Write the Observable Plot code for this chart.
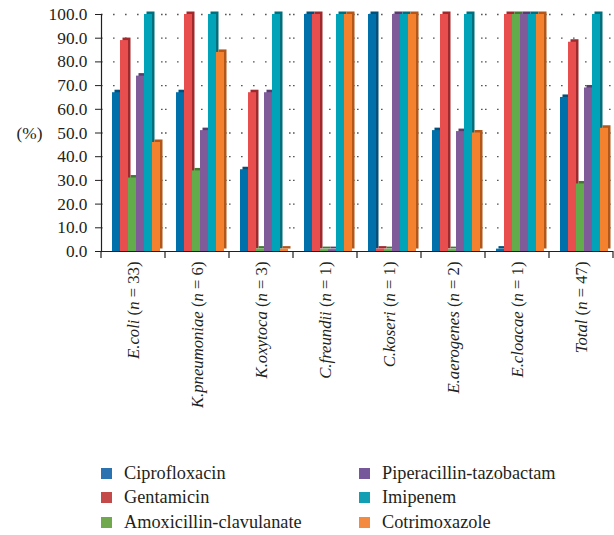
<!DOCTYPE html>
<html><head><meta charset="utf-8">
<script src="https://cdn.jsdelivr.net/npm/d3@7"></script>
<script src="https://cdn.jsdelivr.net/npm/@observablehq/plot@0.6"></script>
<style>
body{margin:0;background:#fff;font-family:"Liberation Serif","DejaVu Serif","Times New Roman",Times,serif;color:#231f20;}
#legend{display:grid;grid-template-columns:258px 250px;grid-template-rows:repeat(3,24.5px);grid-auto-flow:column;margin-left:101px;margin-top:16px;font-size:18.3px;}
.item{display:flex;align-items:center;}
.sw{width:11px;height:11px;margin-right:12px;display:inline-block;flex:none;}
svg text{font-family:"Liberation Serif","DejaVu Serif","Times New Roman",Times,serif;}
</style></head><body><div id="chart"></div><div id="legend"></div>
<script>
const groups = ["E.coli","K.pneumoniae","K.oxytoca","C.freundii","C.koseri","E.aerogenes","E.cloacae","Total"];
const counts = [33,6,3,1,1,2,1,47];
const antibiotics = ["Ciprofloxacin","Gentamicin","Amoxicillin-clavulanate","Piperacillin-tazobactam","Imipenem","Cotrimoxazole"];
const ciprofloxacin = [67,67,34.5,100,100,51,1,65];
const gentamicin = [89,100,67,100,1,100,100,88.3];
const amoxicillinClavulanate = [31,34,1,0.8,0.8,0.8,100,28.5];
const piperacillinTazobactam = [74,51,67,0.8,100,50.6,100,69];
const imipenem = [100,100,100,100,100,100,100,100];
const cotrimoxazole = [46,84,1,100,100,50,100,52];
const yTicks = [0,10,20,30,40,50,60,70,80,90,100];

const series = [ciprofloxacin,gentamicin,amoxicillinClavulanate,piperacillinTazobactam,imipenem,cotrimoxazole];
const barColors = ["#0070aa","#e84e4e","#62ac4b","#7f5b99","#00a3b8","#f3812e"];
const sideColors = ["#00507a","#9e2a2e","#3f7a30","#573c6c","#006f7d","#b2561a"];
const legendColors = ["#2a72b0","#c44a49","#6fa84d","#76579a","#139fb3","#f48a3f"];
const fontStack = "'Liberation Serif','DejaVu Serif','Times New Roman',Times,serif";

const labels = groups.map((g,i)=>`${g} (n = ${counts[i]})`);
const data = groups.flatMap((g,i)=>antibiotics.map((a,j)=>({group:labels[i],antibiotic:a,value:series[j][i]})));

const barMarks = antibiotics.flatMap((a,j)=>{
  const d = data.filter(r=>r.antibiotic===a);
  return [
    Plot.barY(d,{fx:"group",x:"antibiotic",y:"value",fill:sideColors[j],dx:5.5,dy:-2.5,inset:0}),
    Plot.barY(d,{fx:"group",x:"antibiotic",y:"value",fill:barColors[j],dx:3,inset:0})
  ];
});

const plot = Plot.plot({
  width:614,height:445,marginLeft:100,marginRight:0,marginTop:14,marginBottom:194,
  style:{fontFamily:fontStack,fontSize:"16.7px",color:"#231f20",background:"#fff"},
  fx:{domain:labels,padding:0,label:null,tickRotate:-90,tickSize:0,tickPadding:10},
  x:{domain:antibiotics,paddingInner:0,paddingOuter:0.68,axis:null},
  y:{domain:[0,100],label:null},
  marks:[
    Plot.gridY(yTicks.slice(1),{stroke:"#444",strokeOpacity:0.9,strokeDasharray:"1.6,10.4",strokeWidth:1.3}),
    ...barMarks,
    Plot.ruleY([0],{stroke:"#231f20",strokeWidth:1.2}),
    Plot.frame({anchor:"left",facetAnchor:"left",stroke:"#231f20",strokeWidth:1.2}),
    Plot.axisY(yTicks,{tickFormat:d=>d.toFixed(1),tickSize:6,tickPadding:8,label:null,fontSize:17.3}),
    Plot.text(["(%)"],{frameAnchor:"left",dx:-72,textAnchor:"middle",facetAnchor:"left",fontSize:17.3})
  ]
});
document.getElementById("chart").appendChild(plot);

const fx = plot.scale("fx"), ys = plot.scale("y");
const svg = d3.select(plot);
const y0 = ys.apply(0);
const bounds = labels.map(l=>fx.apply(l)).concat([fx.apply(labels[labels.length-1])+fx.bandwidth]);
svg.append("g").selectAll("line").data(bounds).join("line")
  .attr("x1",d=>d).attr("x2",d=>d).attr("y1",y0).attr("y2",y0+7)
  .attr("stroke","#231f20").attr("stroke-width",1.2);

svg.selectAll('g[aria-label="fx-axis tick label"] text').each(function(){
  const t = d3.select(this);
  const s = t.text();
  const m = s.match(/^(.*) \(n = (\d+)\)$/);
  if(!m) return;
  t.text(null);
  t.append("tspan").attr("font-style","italic").text(m[1]);
  t.append("tspan").text(" (");
  t.append("tspan").attr("font-style","italic").text("n");
  t.append("tspan").text(` = ${m[2]})`);
});

const lg = d3.select("#legend");
antibiotics.forEach((a,j)=>{
  const it = lg.append("div").attr("class","item");
  it.append("span").attr("class","sw").style("background",legendColors[j]);
  it.append("span").text(a);
});
</script></body></html>
